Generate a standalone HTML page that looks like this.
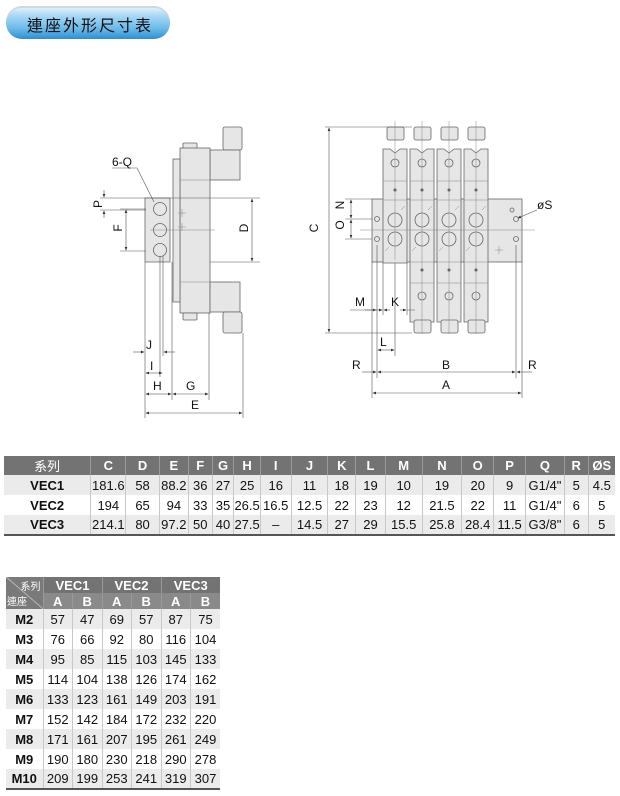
<!DOCTYPE html>
<html><head><meta charset="utf-8">
<style>
body{margin:0;width:620px;height:796px;background:#fff;position:relative;overflow:hidden;font-family:"Liberation Sans","Noto Sans CJK TC",sans-serif}
.ban{position:absolute;left:6px;top:6px;width:164px;height:33px;border-radius:16px;background:linear-gradient(180deg,#eef5fb 0%,#a8d8f5 30%,#66b8e8 70%,#2e8fd0 100%);box-shadow:inset 0 2px 0 #d0d8e0}
.ban span{position:absolute;left:21px;top:6px;font-size:16px;letter-spacing:2px;color:#111;font-family:"Noto Sans CJK TC",sans-serif}
table{position:absolute;border-collapse:collapse;font-size:13px;color:#111}
td,th{padding:0;text-align:center;border-left:1px solid #c8c8c8}
th{background:#737373;color:#fff;font-weight:bold;border-left:1px solid #9a9a9a}
tr.g td{background:#ebebeb}
td.b{font-weight:bold}
</style></head><body>
<div class="ban"><span>連座外形尺寸表</span></div>

<svg width="620" height="440" style="position:absolute;left:0;top:0" font-family="Liberation Sans,sans-serif" font-size="12" fill="none">
<defs><marker id="a" markerWidth="6" markerHeight="6" refX="5" refY="3" orient="auto"><path d="M0,0.8L6,3L0,5.2z" fill="#333"/></marker></defs>
<g stroke="#666" stroke-width="0.8" fill="#e6e6e6">
<rect x="223" y="127" width="19" height="23" rx="2"/>
<rect x="183" y="143" width="14" height="7" rx="1"/>
<rect x="210" y="150" width="30" height="30"/>
<rect x="180" y="148" width="30" height="165"/>
<rect x="173" y="159" width="7" height="143"/>
<rect x="210" y="282" width="30" height="30"/>
<rect x="223" y="312" width="19" height="21" rx="2"/>
<rect x="183" y="313" width="14" height="7" rx="1"/>
<path d="M145,198h25v64h-25z"/>
<circle cx="160" cy="209" r="6.5"/><circle cx="160" cy="230" r="6.5"/><circle cx="160" cy="250" r="6.5"/>
</g>
<g stroke="#888" stroke-width="0.5">
<line x1="180" y1="180" x2="210" y2="180"/><line x1="180" y1="282" x2="210" y2="282"/>
<line x1="150" y1="230" x2="215" y2="230"/>
<path d="M178,213h8M182,209v8M178,227h8M182,223v8"/>
</g>
<g stroke="#555" stroke-width="0.6">
<line x1="100" y1="198" x2="260" y2="198"/><line x1="100" y1="210" x2="146" y2="210"/><line x1="120" y1="209" x2="146" y2="209"/>
<line x1="120" y1="251" x2="146" y2="251"/><line x1="210" y1="262" x2="260" y2="262"/>
<line x1="104" y1="190" x2="104" y2="197" marker-end="url(#a)"/><line x1="104" y1="218" x2="104" y2="211" marker-end="url(#a)"/>
<line x1="126" y1="230" x2="126" y2="210" marker-end="url(#a)"/><line x1="126" y1="230" x2="126" y2="250" marker-end="url(#a)"/>
<line x1="252" y1="230" x2="252" y2="199" marker-end="url(#a)"/><line x1="252" y1="230" x2="252" y2="261" marker-end="url(#a)"/>
<path d="M145,262V418M160,256V377M163,256V356M172,262V400M209,313V400M243,333V418"/>
<line x1="133" y1="352" x2="144" y2="352" marker-end="url(#a)"/><line x1="175" y1="352" x2="164" y2="352" marker-end="url(#a)"/>
<line x1="152" y1="373" x2="146" y2="373" marker-end="url(#a)"/><line x1="152" y1="373" x2="162" y2="373" marker-end="url(#a)"/>
<line x1="158" y1="394" x2="146" y2="394" marker-end="url(#a)"/><line x1="158" y1="394" x2="171" y2="394" marker-end="url(#a)"/>
<line x1="190" y1="394" x2="173" y2="394" marker-end="url(#a)"/><line x1="190" y1="394" x2="208" y2="394" marker-end="url(#a)"/>
<line x1="195" y1="413" x2="146" y2="413" marker-end="url(#a)"/><line x1="195" y1="413" x2="242" y2="413" marker-end="url(#a)"/>
<path d="M112,168h25l17,34"/>
</g>
<g fill="#111" stroke="none" font-size="12">
<text x="112" y="166">6-Q</text>
<text x="98" y="208" transform="rotate(-90 98 204)" text-anchor="middle">P</text>
<text x="120" y="234" transform="rotate(-90 118 230)" text-anchor="middle">F</text>
<text x="246" y="234" transform="rotate(-90 244 230)" text-anchor="middle">D</text>
<text x="146" y="349">J</text><text x="150" y="370">I</text><text x="153" y="390">H</text><text x="186" y="390">G</text><text x="191" y="409">E</text>
</g>

<g stroke="#666" stroke-width="0.8" fill="#e6e6e6">
<rect x="372" y="199" width="150" height="63"/>
</g>
<g stroke="#666" stroke-width="0.8" fill="#e6e6e6">
<rect x="387" y="127" width="17" height="13" rx="2"/><path d="M383,149h7l5,4l5,-4h7v114h-24z"/>
<rect x="414" y="127" width="17" height="13" rx="2"/><path d="M410,149h7l5,4l5,-4h7v173h-24z"/><rect x="414" y="320" width="17" height="13" rx="2"/>
<rect x="441" y="127" width="17" height="13" rx="2"/><path d="M437,149h7l5,4l5,-4h7v173h-24z"/><rect x="441" y="320" width="17" height="13" rx="2"/>
<rect x="468" y="127" width="17" height="13" rx="2"/><path d="M464,149h7l5,4l5,-4h7v173h-24z"/><rect x="468" y="320" width="17" height="13" rx="2"/>
<circle cx="395" cy="220" r="7"/><circle cx="422" cy="220" r="7"/><circle cx="449" cy="220" r="7"/><circle cx="476" cy="220" r="7"/>
<circle cx="395" cy="239" r="7"/><circle cx="422" cy="239" r="7"/><circle cx="449" cy="239" r="7"/><circle cx="476" cy="239" r="7"/>
<circle cx="395" cy="163" r="4"/><circle cx="422" cy="163" r="4"/><circle cx="449" cy="163" r="4"/><circle cx="476" cy="163" r="4"/>
<circle cx="422" cy="296" r="4"/><circle cx="449" cy="296" r="4"/><circle cx="476" cy="296" r="4"/>
<circle cx="377" cy="219" r="2.5"/><circle cx="377" cy="239" r="2.5"/><circle cx="516" cy="219" r="2.5"/><circle cx="516" cy="239" r="2.5"/><circle cx="512" cy="210" r="2"/>
</g>
<g stroke="#888" stroke-width="0.5">
<path d="M383,181h24M410,181h24M437,181h24M464,181h24M383,200h24M410,200h24M437,200h24M464,200h24M410,262h24M437,262h24M464,262h24M410,283h24M437,283h24M464,283h24"/>
<path d="M395,121V150M422,121V334M449,121V334M476,121V334M395,260V150"/>
<path d="M360,230h175"/>
<circle cx="395" cy="190" r="1.5" fill="#666"/><circle cx="422" cy="190" r="1.5" fill="#666"/><circle cx="449" cy="190" r="1.5" fill="#666"/><circle cx="476" cy="190" r="1.5" fill="#666"/>
<circle cx="422" cy="270" r="1.5" fill="#666"/><circle cx="449" cy="270" r="1.5" fill="#666"/><circle cx="476" cy="270" r="1.5" fill="#666"/>
<path d="M401,210l4,-4M428,210l4,-4M455,210l4,-4M482,210l4,-4M385,251l4,-4M412,251l4,-4M439,251l4,-4M466,251l4,-4M495,250h8M499,246v8"/>
</g>
<g stroke="#555" stroke-width="0.6">
<path d="M325,127H412M325,333H412M345,199H372M345,219H372M345,239H372"/>
<line x1="329" y1="230" x2="329" y2="128" marker-end="url(#a)"/><line x1="329" y1="230" x2="329" y2="332" marker-end="url(#a)"/>
<line x1="351" y1="209" x2="351" y2="200" marker-end="url(#a)"/><line x1="351" y1="209" x2="351" y2="218" marker-end="url(#a)"/>
<line x1="351" y1="229" x2="351" y2="220" marker-end="url(#a)"/><line x1="351" y1="229" x2="351" y2="238" marker-end="url(#a)"/>
<path d="M372,262V398M377,245V378M383,263V315M395,263V356M407,263V315M516,245V378M522,262V398"/>
<path d="M350,310h22M407,310h8"/>
<line x1="365" y1="310" x2="376" y2="310" marker-end="url(#a)"/><line x1="372" y1="310" x2="382" y2="310" marker-end="url(#a)"/>
<line x1="390" y1="310" x2="384" y2="310" marker-end="url(#a)"/><line x1="400" y1="310" x2="406" y2="310" marker-end="url(#a)"/>
<line x1="386" y1="350" x2="378" y2="350" marker-end="url(#a)"/><line x1="386" y1="350" x2="394" y2="350" marker-end="url(#a)"/>
<line x1="362" y1="372" x2="376" y2="372" marker-end="url(#a)"/><line x1="446" y1="372" x2="378" y2="372" marker-end="url(#a)"/>
<line x1="446" y1="372" x2="515" y2="372" marker-end="url(#a)"/><line x1="532" y1="372" x2="517" y2="372" marker-end="url(#a)"/>
<line x1="446" y1="393" x2="373" y2="393" marker-end="url(#a)"/><line x1="446" y1="393" x2="521" y2="393" marker-end="url(#a)"/>
<line x1="537" y1="210" x2="518" y2="218" marker-end="url(#a)"/>
</g>
<g fill="#111" stroke="none">
<text x="322" y="232" transform="rotate(-90 318 232)" text-anchor="middle">C</text>
<text x="344" y="213" transform="rotate(-90 340 209)" text-anchor="middle">N</text>
<text x="344" y="233" transform="rotate(-90 340 229)" text-anchor="middle">O</text>
<text x="537" y="209">øS</text>
<text x="355" y="306">M</text><text x="391" y="306">K</text><text x="380" y="346">L</text>
<text x="352" y="369">R</text><text x="442" y="369">B</text><text x="528" y="369">R</text><text x="442" y="389">A</text>
</g>
</svg>

<table style="left:4px;top:456px;width:611px">
<colgroup><col style="width:88px"><col style="width:35px"><col style="width:34px"><col style="width:29px"><col style="width:24px"><col style="width:22px"><col style="width:22px"><col style="width:31px"><col style="width:37px"><col style="width:28px"><col style="width:30px"><col style="width:37px"><col style="width:40px"><col style="width:32px"><col style="width:32px"><col style="width:39px"><col style="width:24px"><col style="width:27px"></colgroup>
<tr style="height:19px"><th style="border-left:none;font-weight:normal;font-family:'Noto Sans CJK TC',sans-serif">系列</th><th>C</th><th>D</th><th>E</th><th>F</th><th>G</th><th>H</th><th>I</th><th>J</th><th>K</th><th>L</th><th>M</th><th>N</th><th>O</th><th>P</th><th>Q</th><th>R</th><th>ØS</th></tr>
<tr class="g" style="height:20px"><td class="b" style="border-left:none">VEC1</td><td>181.6</td><td>58</td><td>88.2</td><td>36</td><td>27</td><td>25</td><td>16</td><td>11</td><td>18</td><td>19</td><td>10</td><td>19</td><td>20</td><td>9</td><td>G1/4"</td><td>5</td><td>4.5</td></tr>
<tr style="height:20px"><td class="b" style="border-left:none">VEC2</td><td>194</td><td>65</td><td>94</td><td>33</td><td>35</td><td>26.5</td><td>16.5</td><td>12.5</td><td>22</td><td>23</td><td>12</td><td>21.5</td><td>22</td><td>11</td><td>G1/4"</td><td>6</td><td>5</td></tr>
<tr class="g" style="height:20px;border-bottom:2px solid #555"><td class="b" style="border-left:none">VEC3</td><td>214.1</td><td>80</td><td>97.2</td><td>50</td><td>40</td><td>27.5</td><td>–</td><td>14.5</td><td>27</td><td>29</td><td>15.5</td><td>25.8</td><td>28.4</td><td>11.5</td><td>G3/8"</td><td>6</td><td>5</td></tr>
</table>

<table style="left:6px;top:577px;width:214px;font-size:13px">
<colgroup><col style="width:37px"><col span="6" style="width:29.5px"></colgroup>
<tr style="height:16px"><th rowspan="2" style="border-left:none;position:relative;background:linear-gradient(to top right,#7a7a7a 49%,#ccc 50%,#7a7a7a 52%);font-size:10px;font-weight:normal;font-family:'Noto Sans CJK TC',sans-serif"><span style="position:absolute;right:2px;top:1px">系列</span><span style="position:absolute;left:1px;bottom:1px">連座</span></th><th colspan="2">VEC1</th><th colspan="2">VEC2</th><th colspan="2">VEC3</th></tr>
<tr style="height:16px"><th style="background:#8a8a8a">A</th><th style="background:#8a8a8a">B</th><th style="background:#8a8a8a">A</th><th style="background:#8a8a8a">B</th><th style="background:#8a8a8a">A</th><th style="background:#8a8a8a">B</th></tr>
<tr class="g" style="height:20px"><td class="b" style="border-left:none">M2</td><td>57</td><td>47</td><td>69</td><td>57</td><td>87</td><td>75</td></tr>
<tr style="height:20px"><td class="b" style="border-left:none">M3</td><td>76</td><td>66</td><td>92</td><td>80</td><td>116</td><td>104</td></tr>
<tr class="g" style="height:20px"><td class="b" style="border-left:none">M4</td><td>95</td><td>85</td><td>115</td><td>103</td><td>145</td><td>133</td></tr>
<tr style="height:20px"><td class="b" style="border-left:none">M5</td><td>114</td><td>104</td><td>138</td><td>126</td><td>174</td><td>162</td></tr>
<tr class="g" style="height:20px"><td class="b" style="border-left:none">M6</td><td>133</td><td>123</td><td>161</td><td>149</td><td>203</td><td>191</td></tr>
<tr style="height:20px"><td class="b" style="border-left:none">M7</td><td>152</td><td>142</td><td>184</td><td>172</td><td>232</td><td>220</td></tr>
<tr class="g" style="height:20px"><td class="b" style="border-left:none">M8</td><td>171</td><td>161</td><td>207</td><td>195</td><td>261</td><td>249</td></tr>
<tr style="height:20px"><td class="b" style="border-left:none">M9</td><td>190</td><td>180</td><td>230</td><td>218</td><td>290</td><td>278</td></tr>
<tr class="g" style="height:20px;border-bottom:2px solid #555"><td class="b" style="border-left:none">M10</td><td>209</td><td>199</td><td>253</td><td>241</td><td>319</td><td>307</td></tr>
</table>
</body></html>
